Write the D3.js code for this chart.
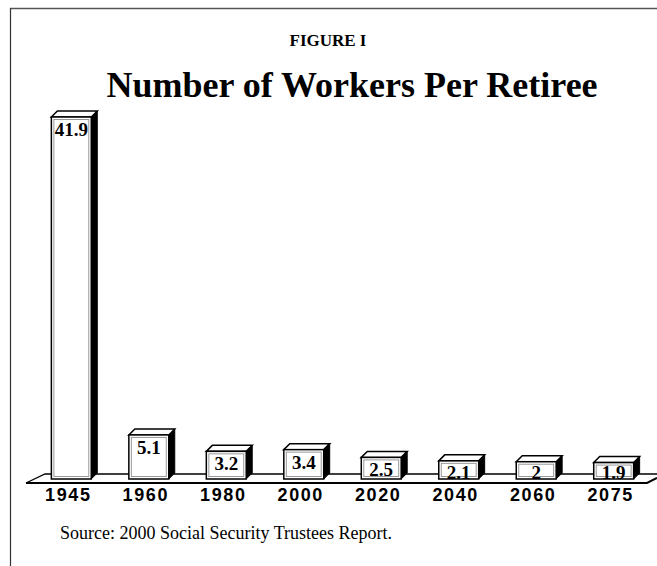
<!DOCTYPE html>
<html>
<head>
<meta charset="utf-8">
<script src="https://cdnjs.cloudflare.com/ajax/libs/d3/7.8.5/d3.min.js"></script>
<style>
  body { margin: 0; background: #fff; }
  svg { display: block; }
</style>
</head>
<body>
<div id="chart"></div>
<script>
var years = ["1945", "1960", "1980", "2000", "2020", "2040", "2060", "2075"];
var workers = [41.9, 5.1, 3.2, 3.4, 2.5, 2.1, 2, 1.9];

var width = 657,
    height = 566,
    base = 479,
    dx = 6,
    dy = 6;

var svg = d3.select("#chart").append("svg")
    .attr("width", width)
    .attr("height", height);

// frame (top and left lines only)
svg.append("line")
    .attr("x1", 10).attr("y1", 8.5).attr("x2", width).attr("y2", 8.5)
    .attr("stroke", "#555").attr("stroke-width", 1.5);
svg.append("line")
    .attr("x1", 10.5).attr("y1", 8).attr("x2", 10.5).attr("y2", height)
    .attr("stroke", "#333").attr("stroke-width", 1.2);

svg.append("text")
    .attr("x", 328).attr("y", 46)
    .attr("text-anchor", "middle")
    .style("font-family", "'Liberation Serif', 'Times New Roman', serif")
    .style("font-weight", "bold")
    .style("font-size", "17px")
    .text("FIGURE I");

svg.append("text")
    .attr("x", 352).attr("y", 97)
    .attr("text-anchor", "middle")
    .style("font-family", "'Liberation Serif', 'Times New Roman', serif")
    .style("font-weight", "bold")
    .style("font-size", "36px")
    .text("Number of Workers Per Retiree");

var x = d3.scaleBand()
    .domain(years)
    .range([32, 653])
    .paddingInner(0.485)
    .paddingOuter(0.25);

var y = d3.scaleLinear()
    .domain([0, 41.9])
    .range([base, 117]);

// floor
svg.append("path")
    .attr("d", "M26," + (base + 4) + "L45," + (base - 5) + "L657," + (base - 5))
    .attr("fill", "none").attr("stroke", "#000").attr("stroke-width", 1.3);
svg.append("path")
    .attr("d", "M26," + (base + 4) + "L647," + (base + 4) + "L657," + (base - 1))
    .attr("fill", "none").attr("stroke", "#000").attr("stroke-width", 2);

var data = years.map(function(d, i) { return {year: d, value: workers[i]}; });

var bar = svg.selectAll(".bar")
    .data(data)
    .enter().append("g")
    .attr("class", "bar");

// side face
bar.append("path")
    .attr("d", function(d) {
        var x1 = x(d.year) + x.bandwidth(), yt = y(d.value);
        return "M" + x1 + "," + yt + "L" + (x1 + dx) + "," + (yt - dy) +
            "L" + (x1 + dx) + "," + (base - dy) + "L" + x1 + "," + base + "Z";
    })
    .attr("fill", "#000").attr("stroke", "#000");

// top face
bar.append("path")
    .attr("d", function(d) {
        var x0 = x(d.year), x1 = x0 + x.bandwidth(), yt = y(d.value);
        return "M" + x0 + "," + yt + "L" + (x0 + dx) + "," + (yt - dy) +
            "L" + (x1 + dx) + "," + (yt - dy) + "L" + x1 + "," + yt + "Z";
    })
    .attr("fill", "#fff").attr("stroke", "#000").attr("stroke-width", 1.5);

// front face
bar.append("rect")
    .attr("x", function(d) { return x(d.year); })
    .attr("y", function(d) { return y(d.value); })
    .attr("width", x.bandwidth())
    .attr("height", function(d) { return base - y(d.value); })
    .attr("fill", "#fff").attr("stroke", "#000").attr("stroke-width", 1.5);

bar.append("rect")
    .attr("x", function(d) { return x(d.year) + 2.5; })
    .attr("y", function(d) { return y(d.value) + 2.5; })
    .attr("width", x.bandwidth() - 5)
    .attr("height", function(d) { return Math.max(0, base - y(d.value) - 5); })
    .attr("fill", "none").attr("stroke", "#999").attr("stroke-width", 1);

bar.append("text")
    .attr("x", function(d) { return x(d.year) + x.bandwidth() / 2; })
    .attr("y", function(d) { return Math.min(y(d.value) + 19, base); })
    .attr("text-anchor", "middle")
    .style("font-family", "'Liberation Serif', 'Times New Roman', serif")
    .style("font-weight", "bold")
    .style("font-size", "19px")
    .text(function(d) { return d.value; });

// year labels
svg.selectAll(".year")
    .data(years)
    .enter().append("text")
    .attr("class", "year")
    .attr("x", function(d) { return x(d) + x.bandwidth() / 2 - 3; })
    .attr("y", 501)
    .attr("text-anchor", "middle")
    .style("font-family", "'Liberation Sans', Arial, sans-serif")
    .style("font-weight", "bold")
    .style("font-size", "18px")
    .style("letter-spacing", "1.6px")
    .text(function(d) { return d; });

svg.append("text")
    .attr("x", 60).attr("y", 539)
    .style("font-family", "'Liberation Serif', 'Times New Roman', serif")
    .style("font-size", "18px")
    .text("Source: 2000 Social Security Trustees Report.");
</script>
</body>
</html>
